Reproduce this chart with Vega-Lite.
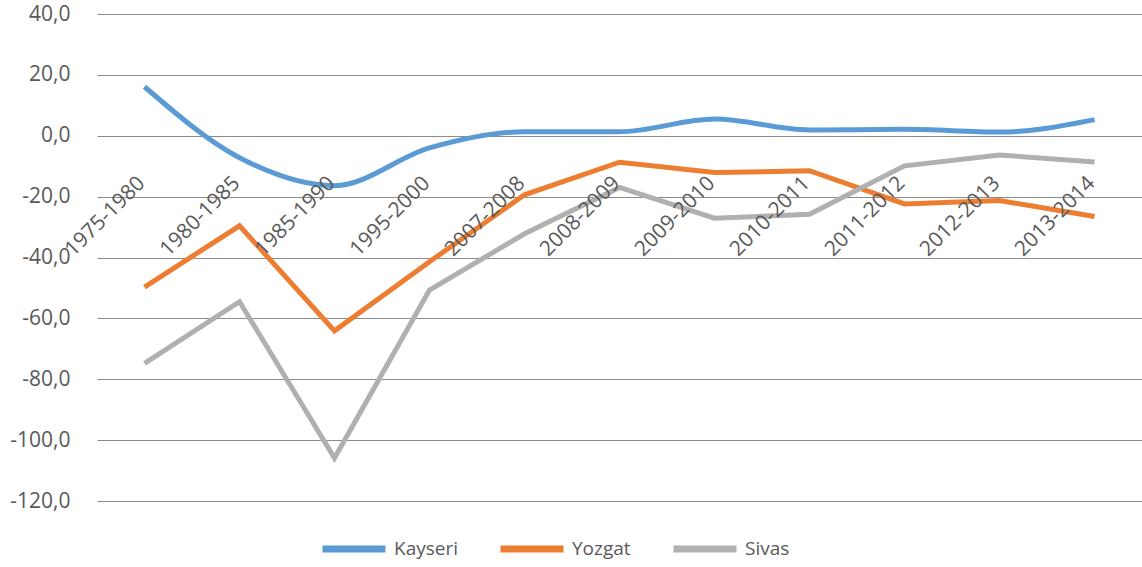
{
  "$schema": "https://vega.github.io/schema/vega-lite/v6.json",
  "width": 1045,
  "height": 487,
  "autosize": {"type": "none"},
  "padding": {"left": 97, "top": 14, "right": 0, "bottom": 66},
  "background": "white",
  "config": {
    "view": {"stroke": null},
    "font": "Open Sans",
    "locale": {"number": {"decimal": ",", "thousands": ".", "grouping": [3], "currency": ["", ""], "minus": "-"}}
  },
  "data": {
    "values": [
      {"period": "1975-1980", "region": "Kayseri", "value": 16.1},
      {"period": "1980-1985", "region": "Kayseri", "value": -7.2},
      {"period": "1985-1990", "region": "Kayseri", "value": -16.4},
      {"period": "1995-2000", "region": "Kayseri", "value": -4.0},
      {"period": "2007-2008", "region": "Kayseri", "value": 1.3},
      {"period": "2008-2009", "region": "Kayseri", "value": 1.3},
      {"period": "2009-2010", "region": "Kayseri", "value": 5.5},
      {"period": "2010-2011", "region": "Kayseri", "value": 1.9},
      {"period": "2011-2012", "region": "Kayseri", "value": 2.1},
      {"period": "2012-2013", "region": "Kayseri", "value": 1.2},
      {"period": "2013-2014", "region": "Kayseri", "value": 5.3},
      {"period": "1975-1980", "region": "Yozgat", "value": -49.7},
      {"period": "1980-1985", "region": "Yozgat", "value": -29.6},
      {"period": "1985-1990", "region": "Yozgat", "value": -64.1},
      {"period": "1995-2000", "region": "Yozgat", "value": -41.4},
      {"period": "2007-2008", "region": "Yozgat", "value": -19.4},
      {"period": "2008-2009", "region": "Yozgat", "value": -8.7},
      {"period": "2009-2010", "region": "Yozgat", "value": -12.1},
      {"period": "2010-2011", "region": "Yozgat", "value": -11.5},
      {"period": "2011-2012", "region": "Yozgat", "value": -22.4},
      {"period": "2012-2013", "region": "Yozgat", "value": -21.3},
      {"period": "2013-2014", "region": "Yozgat", "value": -26.5},
      {"period": "1975-1980", "region": "Sivas", "value": -74.8},
      {"period": "1980-1985", "region": "Sivas", "value": -54.5},
      {"period": "1985-1990", "region": "Sivas", "value": -105.9},
      {"period": "1995-2000", "region": "Sivas", "value": -50.7},
      {"period": "2007-2008", "region": "Sivas", "value": -32.2},
      {"period": "2008-2009", "region": "Sivas", "value": -17.0},
      {"period": "2009-2010", "region": "Sivas", "value": -27.1},
      {"period": "2010-2011", "region": "Sivas", "value": -25.8},
      {"period": "2011-2012", "region": "Sivas", "value": -9.9},
      {"period": "2012-2013", "region": "Sivas", "value": -6.3},
      {"period": "2013-2014", "region": "Sivas", "value": -8.6}
    ]
  },
  "encoding": {
    "x": {
      "field": "period", "type": "ordinal", "sort": null,
      "scale": {"type": "point", "padding": 0.5},
      "axis": {
        "title": null, "labelAngle": -45, "domain": false, "ticks": false, "grid": false,
        "offset": -365, "labelFontSize": 21, "labelColor": "#595959", "labelPadding": 36,
        "labelOffset": -11, "zindex": 1
      }
    },
    "y": {
      "field": "value", "type": "quantitative",
      "scale": {"domain": [-120, 40], "nice": false, "zero": false},
      "axis": {
        "title": null, "values": [-120, -100, -80, -60, -40, -20, 0, 20, 40],
        "format": ".1f", "domain": false, "ticks": false, "grid": true,
        "gridColor": "#8C8C8C", "gridWidth": 1,
        "labelFontSize": 21, "labelColor": "#595959", "labelPadding": 27
      }
    },
    "color": {
      "field": "region", "type": "nominal",
      "scale": {"domain": ["Kayseri", "Yozgat", "Sivas"], "range": ["#5B9BD5", "#ED7D31", "#B0B0B0"]},
      "legend": {
        "title": null, "orient": "none", "legendX": 222, "legendY": 500,
        "direction": "horizontal", "symbolType": "stroke", "symbolSize": 3969,
        "symbolStrokeWidth": 7, "labelFontSize": 19, "labelColor": "#595959",
        "labelOffset": 5, "columnPadding": 28, "padding": 0
      }
    }
  },
  "layer": [
    {
      "transform": [{"filter": "datum.region === 'Kayseri'"}],
      "mark": {"type": "line", "interpolate": "monotone", "strokeWidth": 5}
    },
    {
      "transform": [{"filter": "datum.region !== 'Kayseri'"}],
      "mark": {"type": "line", "strokeWidth": 5}
    }
  ]
}
